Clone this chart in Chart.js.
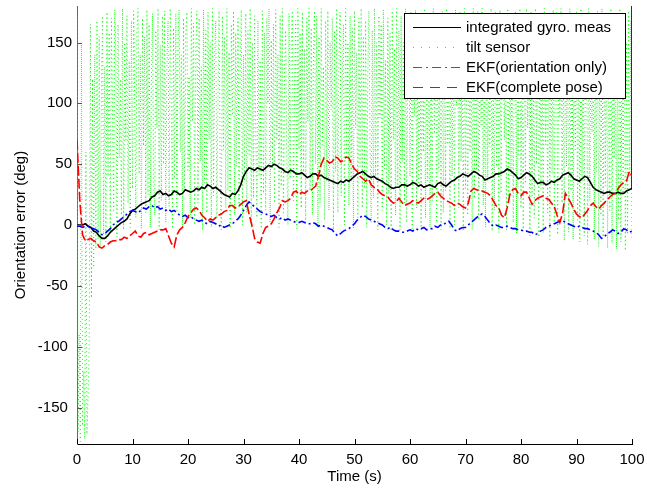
<!DOCTYPE html>
<html>
<head>
<meta charset="utf-8">
<script src="https://cdn.jsdelivr.net/npm/chart.js@4.4.0/dist/chart.umd.min.js"></script>
<style>
  html, body { margin: 0; padding: 0; background: #fff; }
  #wrap { width: 647px; height: 491px; }
</style>
</head>
<body>
<div id="wrap"><canvas id="orientChart" width="647" height="491"></canvas></div>
<script>
// Оси и подписи делений
const xTicks = [0, 10, 20, 30, 40, 50, 60, 70, 80, 90, 100];
const yTicks = [-150, -100, -50, 0, 50, 100, 150];
const xRange = [0, 100];
const yRange = [-180, 180];

// Отфильтрованные оценки: два отсчёта в секунду, t = 0..100 с

// Интегрированный гироскоп (град)
const gyroMeas = [
   0,   0,   0,   1,  -1,  -2,  -5,  -6,  -9, -11,
 -11,  -9,  -6,  -4,  -2,   0,   2,   3,   5,   9,
  12,  13,  15,  17,  18,  19,  20,  23,  24,  27,
  28,  25,  26,  24,  25,  28,  27,  25,  26,  29,
  28,  27,  28,  30,  29,  31,  30,  33,  32,  30,
  31,  29,  27,  25,  24,  23,  26,  25,  28,  33,
  40,  44,  47,  46,  45,  47,  46,  45,  47,  49,
  48,  50,  49,  47,  46,  44,  43,  45,  44,  42,
  42,  43,  41,  39,  40,  42,  42,  40,  41,  39,
  38,  37,  36,  35,  34,  36,  35,  37,  36,  38,
  40,  42,  43,  44,  42,  40,  39,  40,  38,  37,
  36,  34,  33,  31,  30,  31,  31,  33,  33,  32,
  33,  35,  34,  32,  33,  31,  32,  33,  32,  31,
  34,  35,  33,  32,  34,  36,  37,  39,  40,  42,
  41,  40,  42,  44,  43,  41,  40,  37,  38,  39,
  40,  42,  42,  43,  44,  46,  45,  43,  41,  38,
  39,  41,  43,  42,  40,  37,  34,  35,  35,  33,
  34,  36,  35,  37,  38,  41,  42,  43,  41,  38,
  37,  36,  38,  40,  39,  35,  31,  29,  28,  27,
  26,  27,  27,  26,  26,  27,  26,  26,  28,  29,
  30
];
// последний отсчёт гироскопа уходит за +180 (перенос угла)
const gyroWrapEnd = 180;

// EKF, только ориентация (град)
const ekfOrientation = [
  -1,  -1,  -2,  -1,  -1,  -2,  -3,  -4,  -6,  -8,
  -7,  -5,  -3,   0,   2,   3,   5,   7,   9,  11,
  12,  11,  10,  12,  14,  13,  15,  16,  14,  15,
  13,  14,  12,  13,  11,  12,  10,   8,   7,   8,
   6,   7,   5,   4,   3,   4,   2,   1,   3,   2,
   1,  -1,   0,  -2,  -1,   0,   1,   3,   5,   8,
  12,  16,  19,  17,  15,  13,  11,  10,   9,   8,
   7,   8,   6,   5,   6,   4,   5,   4,   3,   2,
   2,   3,   2,   1,   1,   2,   1,  -1,   0,  -1,
  -2,  -3,  -4,  -7,  -9,  -7,  -5,  -4,  -3,  -1,
   1,   4,   6,   8,   7,   5,   4,   3,   2,   1,
   0,  -2,  -3,  -2,  -4,  -5,  -5,  -6,  -6,  -5,
  -4,  -5,  -3,  -4,  -3,  -2,  -4,  -3,  -3,  -1,
  -2,   0,   0,   2,   3,   0,  -4,  -5,  -3,  -2,
  -2,   0,   2,   4,   6,   8,   9,   7,   4,   1,
  -1,   0,  -1,  -2,  -2,  -1,  -2,  -3,  -3,  -4,
  -4,  -5,  -5,  -6,  -6,  -8,  -7,  -5,  -4,  -2,
  -1,   0,   1,   2,   3,   4,   2,   1,   0,  -1,
  -2,  -1,  -2,  -3,  -3,  -4,  -5,  -6,  -8, -11,
 -10,  -7,  -6,  -4,  -5,  -7,  -6,  -3,  -4,  -6,
  -5
];

// EKF, полная поза (град)
const ekfPose = [
  70,  20,  -8, -13, -12, -11, -13, -14, -18, -19,
 -17, -16, -14, -13, -13, -12, -12, -10, -11,  -9,
  -7,  -5,  -9, -10,  -7,  -6,  -8,  -7,  -6,  -5,
  -4,  -4,  -3,  -9, -15, -18,  -8,  -4,  -2,   2,
   7,  10,  13,  14,  12,   8,   6,   3,   5,   4,
   6,   8,   9,  11,  12,  16,  16,  14,  15,  17,
  19,  20,   9,   0, -11, -14, -15,  -7,  -2,  -1,
   1,   5,  10,  14,  20,  19,  20,  22,  27,  28,
  25,  27,  26,  28,  28,  30,  32,  40,  50,  55,
  53,  51,  52,  56,  55,  52,  53,  56,  55,  50,
  46,  44,  40,  38,  36,  38,  33,  31,  30,  27,
  25,  24,  23,  20,  18,  19,  22,  19,  16,  17,
  18,  20,  19,  18,  20,  22,  21,  22,  24,  26,
  27,  24,  22,  20,  19,  18,  16,  18,  17,  15,
  14,  18,  28,  30,  29,  28,  28,  27,  26,  24,
  20,  16,  14,   8,   6,  14,  25,  29,  30,  26,
  24,  27,  27,  22,  17,  20,  22,  23,  24,  22,
  21,  18,  15,   8,   2,  10,  26,  22,  18,  13,
   9,   7,   6,   9,  12,  16,  18,  15,  13,  16,
  18,  21,  23,  25,  26,  30,  33,  35,  36,  44,
  40
];

// Датчик наклона, 5 отсчётов в секунду (град)
const tiltSensor = [
  172, -170, -90, -178, 150,   -165, -120, -176, 60, -172,
  -140, -100, 165, -60, 120,   -35, 140, -20, 168, -12,
  155, -18, 110, 172, -8,      130, -14, 175, 40, 158,
  -6, 170, 92, 12, 177,        145, -10, 165, 55, 120,
  8, 178, -4, 150, 70,         172, 18, 135, -2, 168,
  30, 176, 100, 6, 160,        178, 42, 140, -3, 170,
  65, 155, 10, 177, 25,        165, -2, 118, 174, 35,
  8, 160, 80, 178, -4,         148, 20, 172, 50, 176,
  2, 130, 168, 15, 178,        95, -3, 162, 38, 174,
  12, 150, 177, 60, 140,       -2, 170, 28, 158, 175,
  45, 122, 6, 178, 85,         166, 0, 145, 176, 18,
  170, 52, 130, -4, 177,       35, 160, 10, 175, 70,
  150, -2, 178, 24, 138,       168, 5, 110, 176, 40,
  -4, 172, 62, 155, 14,        178, 28, 142, -3, 165,
  90, 176, 8, 158, 48,         170, 15, 125, 177, 0,
  140, 36, 174, 10, 160,       58, 178, -2, 150, 22,
  172, 80, 6, 168, 40,         135, -3, 176, 26, 158,
  12, 170, 100, 178, 2,        152, 46, 165, 18, 177,
  70, 140, -2, 172, 32,        178, 10, 128, 160, 55,
  0, 174, 38, 150, 176,        20, 115, 168, -3, 178,
  62, 158, 14, 175, 40,        145, 2, 170, 85, 178,
  28, 162, 8, 140, 176,        50, 172, -2, 155, 18,
  178, 66, 130, 4, 168,        36, 176, 12, 150, 95,
  170, -4, 160, 44, 178,       10, 138, 175, 24, 120,
  165, 0, 178, 58, 150,        16, 172, 35, 162, -3,
  176, 80, 142, 6, 170,        48, 178, 14, 155, 30,
  168, -2, 125, 176, 64,       2, 160, 22, 178, 40,
  150, -4, 172, 88, 165,       12, 177, 46, 135, 0,
  170, 26, 158, -5, 176,       70, 145, 8, 178, 32,
  160, -4, 172, 52, 150,       18, 178, 2, 128, 168,
  40, 175, -3, 160, 90,        177, 14, 148, 30, 170,
  -4, 162, 60, 178, 6,         140, 36, 175, -2, 155,
  20, 178, 75, 165, 2,         172, 44, 130, -4, 176,
  10, 158, 28, 178, 66,        150, -3, 170, 40, 160,
  0, 177, 98, 145, 14,         175, 52, 165, -5, 178,
  30, 138, 8, 172, 60,         160, -4, 178, 22, 150,
  45, 176, 4, 165, 82,         178, 16, 140, -2, 170,
  36, 158, 64, 178, -5,        148, 12, 175, 48, 160,
  -6, 177, 26, 132, 170,       70, 165, -4, 178, 18,
  155, 40, 172, 2, 145,        176, -7, 160, 58, 178,
  14, 150, -5, 170, 34,        178, 80, 162, -9, 175,
  24, 140, 6, 178, 50,         165, -10, 172, 30, 155,
  -6, 178, 66, 148, 10,        170, -12, 160, 42, 177,
  2, 135, 176, -8, 165,        88, 178, 18, 150, -13,
  172, 48, 160, -6, 178,       28, 145, -12, 170, 62,
  176, 4, 158, -14, 178,       36, 165, -9, 140, 172,
  -16, 178, 20, 155, 76,       170, -12, 162, 44, 176,
  -18, 150, 8, 178, -10,       160, 32, 172, -19, 145,
  12, 178, -15, 165, 55,       174, -20, 138, 4, 178,
  -14, 160, 26, 170, -21,      150, -8, 176, 40, 168,
  -12
];

const seriesNames = [
  'integrated gyro. meas',
  'tilt sensor',
  'EKF(orientation only)',
  'EKF(complete pose)'
];

const FONT = "'Liberation Sans', Arial, Helvetica, sans-serif";
Chart.defaults.font.family = FONT;
Chart.defaults.font.size = 15;
Chart.defaults.color = '#000';

// отсчёты равномерно по интервалу времени -> точки {x, y}
function toPoints(values) {
  const step = (xRange[1] - xRange[0]) / (values.length - 1);
  return values.map((v, i) => ({ x: xRange[0] + i * step, y: v }));
}

const gyroPoints = toPoints(gyroMeas);
gyroPoints.push({ x: xRange[1], y: gyroWrapEnd });

// засечки делений внутрь области графика, как в MATLAB
const inwardTicks = {
  id: 'inwardTicks',
  afterDatasetsDraw(chart) {
    const { ctx, chartArea: area, scales: { x, y } } = chart;
    ctx.save();
    ctx.lineWidth = 1;
    ctx.strokeStyle = '#000';
    ctx.beginPath();
    x.ticks.forEach(tk => {
      const px = Math.round(x.getPixelForValue(tk.value)) + 0.5;
      ctx.moveTo(px, area.bottom);
      ctx.lineTo(px, area.bottom - 5);
    });
    ctx.stroke();
    ctx.strokeStyle = '#555';
    ctx.beginPath();
    y.ticks.forEach(tk => {
      const py = Math.round(y.getPixelForValue(tk.value)) + 0.5;
      ctx.moveTo(area.left, py);
      ctx.lineTo(area.left + 5, py);
    });
    ctx.stroke();
    ctx.restore();
  }
};

// легенда в рамке в правом верхнем углу
const boxedLegend = {
  id: 'boxedLegend',
  afterDraw(chart) {
    const { ctx } = chart;
    const box = { left: 404.5, top: 13.5, width: 221, height: 85 };
    const rows = [27, 47, 67, 87];
    const styles = [
      { color: '#000', dash: [] },
      { color: 'rgb(60,230,60)', dash: [1, 7] },
      { color: 'rgb(70,70,255)', dash: [9, 4, 2, 4] },
      { color: 'rgb(255,0,0)', dash: [10, 7] }
    ];
    ctx.save();
    ctx.fillStyle = '#fff';
    ctx.fillRect(box.left, box.top, box.width, box.height);
    ctx.strokeStyle = '#000';
    ctx.lineWidth = 1;
    ctx.setLineDash([]);
    ctx.strokeRect(box.left, box.top, box.width, box.height);

    ctx.font = '15px ' + FONT;
    ctx.textBaseline = 'middle';
    ctx.textAlign = 'left';
    seriesNames.forEach((name, i) => {
      const y = rows[i] + 0.5;
      ctx.strokeStyle = styles[i].color;
      ctx.lineWidth = i === 1 ? 1.2 : 1;
      ctx.setLineDash(styles[i].dash);
      ctx.beginPath();
      ctx.moveTo(413, y);
      ctx.lineTo(461, y);
      ctx.stroke();
      ctx.fillStyle = '#000';
      ctx.fillText(name, 466, rows[i] + 1);
    });
    ctx.restore();
  }
};

new Chart('orientChart', {
  type: 'line',
  data: {
    datasets: [
      {
        label: seriesNames[3],
        data: toPoints(ekfPose),
        borderColor: 'rgb(255,0,0)',
        borderWidth: 1.6,
        borderDash: [10, 3],
        order: 0
      },
      {
        label: seriesNames[2],
        data: toPoints(ekfOrientation),
        borderColor: 'rgb(0,0,255)',
        borderWidth: 1.6,
        borderDash: [8, 3, 2, 3],
        order: 1
      },
      {
        label: seriesNames[0],
        data: gyroPoints,
        borderColor: '#000',
        borderWidth: 1.6,
        order: 2
      },
      {
        label: seriesNames[1],
        data: toPoints(tiltSensor),
        borderColor: 'rgb(0,255,0)',
        borderWidth: 1,
        borderDash: [1, 3],
        order: 3
      }
    ]
  },
  options: {
    responsive: false,
    animation: false,
    devicePixelRatio: 1,
    layout: { padding: { top: 6, right: 15, bottom: 0, left: 0 } },
    elements: {
      point: { radius: 0 },
      line: { tension: 0, fill: false }
    },
    plugins: {
      legend: { display: false },
      tooltip: { enabled: false }
    },
    scales: {
      x: {
        type: 'linear',
        min: xRange[0],
        max: xRange[1],
        afterBuildTicks: s => { s.ticks = xTicks.map(v => ({ value: v })); },
        afterFit: s => {
          s.height = 47;
          s.paddingLeft = 0;
          s.paddingRight = 0;
        },
        ticks: { autoSkip: false, maxRotation: 0, padding: 7, color: '#000' },
        grid: { display: false, drawTicks: false },
        border: { display: true, color: '#000', width: 1 },
        title: { display: true, text: 'Time (s)', color: '#000', padding: { top: 0, bottom: 5 } }
      },
      y: {
        type: 'linear',
        min: yRange[0],
        max: yRange[1],
        afterBuildTicks: s => { s.ticks = yTicks.map(v => ({ value: v })); },
        afterFit: s => {
          s.width = 77;
          s.paddingTop = 0;
          s.paddingBottom = 0;
        },
        ticks: {
          autoSkip: false,
          padding: 5,
          color: '#000',
          callback: v => (v < 0 ? v + ' ' : String(v))
        },
        grid: { display: false, drawTicks: false },
        border: { display: true, color: '#666', width: 1 },
        title: { display: true, text: 'Orientation error (deg)', color: '#000', padding: { top: 12, bottom: 0 } }
      }
    }
  },
  plugins: [inwardTicks, boxedLegend]
});
</script>
</body>
</html>
